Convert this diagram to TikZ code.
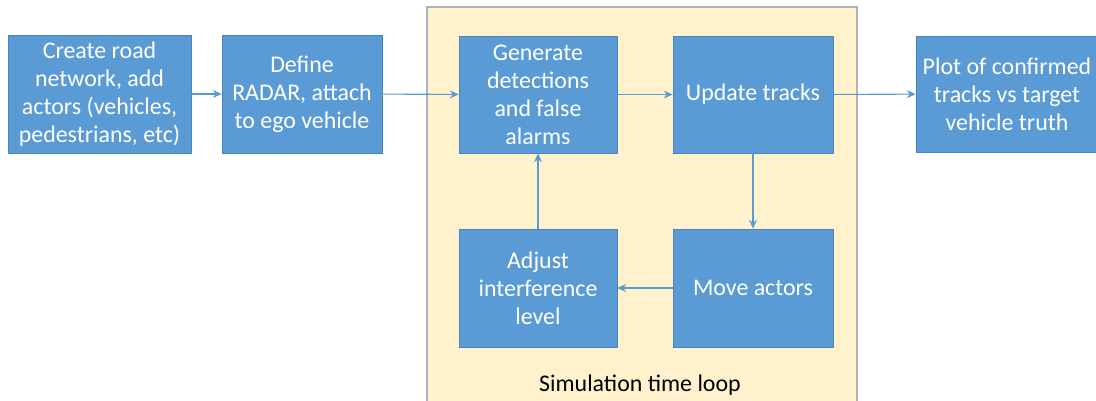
\documentclass[tikz,border=0pt]{standalone}
\usepackage{fontspec}
\setmainfont{Carlito}
\usetikzlibrary{arrows.meta}

\definecolor{boxblue}{HTML}{5B9BD5}
\definecolor{boxedge}{HTML}{4A84BA}
\definecolor{loopfill}{HTML}{FFF2CC}
\definecolor{loopedge}{HTML}{A9B4BE}

\tikzset{
  stepbox/.style={draw=boxedge, fill=boxblue, text=white, align=center,
    inner sep=0pt, font=\fontsize{13.6}{16}\selectfont},
  flow/.style={draw=boxblue, line width=0.6pt, -{Stealth[length=5pt,width=4.5pt]}}
}

\begin{document}
\begin{tikzpicture}[x=0.02cm, y=-0.02cm]
		\clip (0, 0) rectangle (1096, 400) ;
		\fill[white] (0, 0) rectangle (1096, 400) ;

		% simulation loop panel
		\draw[loopedge, fill=loopfill, line width=0.6pt] (427, 7) rectangle (857, 410) ;
		\node[font=\fontsize{13.6}{16}\selectfont] (looplabel) at (640, 385) {Simulation time loop} ;

		\node[stepbox, minimum width=183*0.02cm, minimum height=118*0.02cm] (create) at (99.5, 94)
			{Create road\\network, add\\actors (vehicles,\\pedestrians, etc)} ;
		\node[stepbox, minimum width=160*0.02cm, minimum height=118*0.02cm] (define) at (302, 94)
			{Define\\RADAR, attach\\to ego vehicle} ;
		\node[stepbox, minimum width=158*0.02cm, minimum height=117*0.02cm] (detect) at (538, 94.5)
			{Generate\\detections\\and false\\alarms} ;
		\node[stepbox, minimum width=160*0.02cm, minimum height=117*0.02cm] (update) at (753, 94.5)
			{Update tracks} ;
		\node[stepbox, minimum width=158*0.02cm, minimum height=118*0.02cm] (adjust) at (538, 288)
			{Adjust\\interference\\level} ;
		\node[stepbox, minimum width=160*0.02cm, minimum height=118*0.02cm] (move) at (753, 288)
			{Move actors} ;
		\node[stepbox, minimum width=182*0.02cm, minimum height=116*0.02cm] (plot) at (1007, 94)
			{Plot of confirmed\\tracks vs target\\vehicle truth} ;

		\draw[flow] (create) -- (define) ;
		\draw[flow] (define) -- (detect) ;
		\draw[flow] (detect) -- (update) ;
		\draw[flow] (update) -- (plot) ;
		\draw[flow] (update) -- (move) ;
		\draw[flow] (move) -- (adjust) ;
		\draw[flow] (adjust) -- (detect) ;
	\end{tikzpicture}
\end{document}
